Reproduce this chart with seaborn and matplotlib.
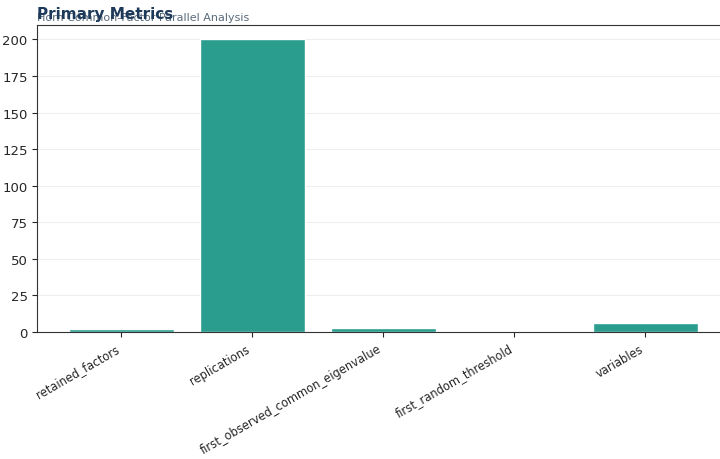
import matplotlib
matplotlib.use("Agg")
import matplotlib.pyplot as plt
import seaborn as sns
import pandas as pd

# values
metrics = ["retained_factors", "replications", "first_observed_common_eigenvalue",
           "first_random_threshold", "variables"]
values = [2, 200, 2.6, 0.15, 6]

df = pd.DataFrame({"metric": metrics, "value": values})

sns.set_style("ticks")
plt.rcParams["font.family"] = ["DejaVu Sans"]

fig = plt.figure(figsize=(7.2, 4.6), dpi=100)
# axes runs a little past the right edge, like the reference
ax = fig.add_axes([0.052, 0.276, 0.961, 0.668])

sns.barplot(data=df, x="metric", y="value", color="#2a9d8f", saturation=1,
            width=0.8, ax=ax)

ax.set_ylim(0, 210)
ax.set_xlim(-0.64, 4.64)
ax.set_xlabel("")
ax.set_ylabel("Value", fontsize=10)
ax.yaxis.grid(True, color="#eeeeee", linewidth=0.8)
ax.set_axisbelow(True)
ax.tick_params(axis="y", labelsize=9.5)
ax.tick_params(axis="x", labelsize=8.3)
plt.setp(ax.get_xticklabels(), rotation=30, ha="right")
for s in ax.spines.values():
    s.set_color("#333333")

fig.text(0.052, 0.951, "Horn Common-Factor Parallel Analysis", fontsize=8,
         color="#5a6b7b", va="bottom")
fig.text(0.052, 0.953, "Primary Metrics", fontsize=11, fontweight="bold",
         color="#1d3a5a", va="bottom")

fig.savefig("out.png", dpi=100)
